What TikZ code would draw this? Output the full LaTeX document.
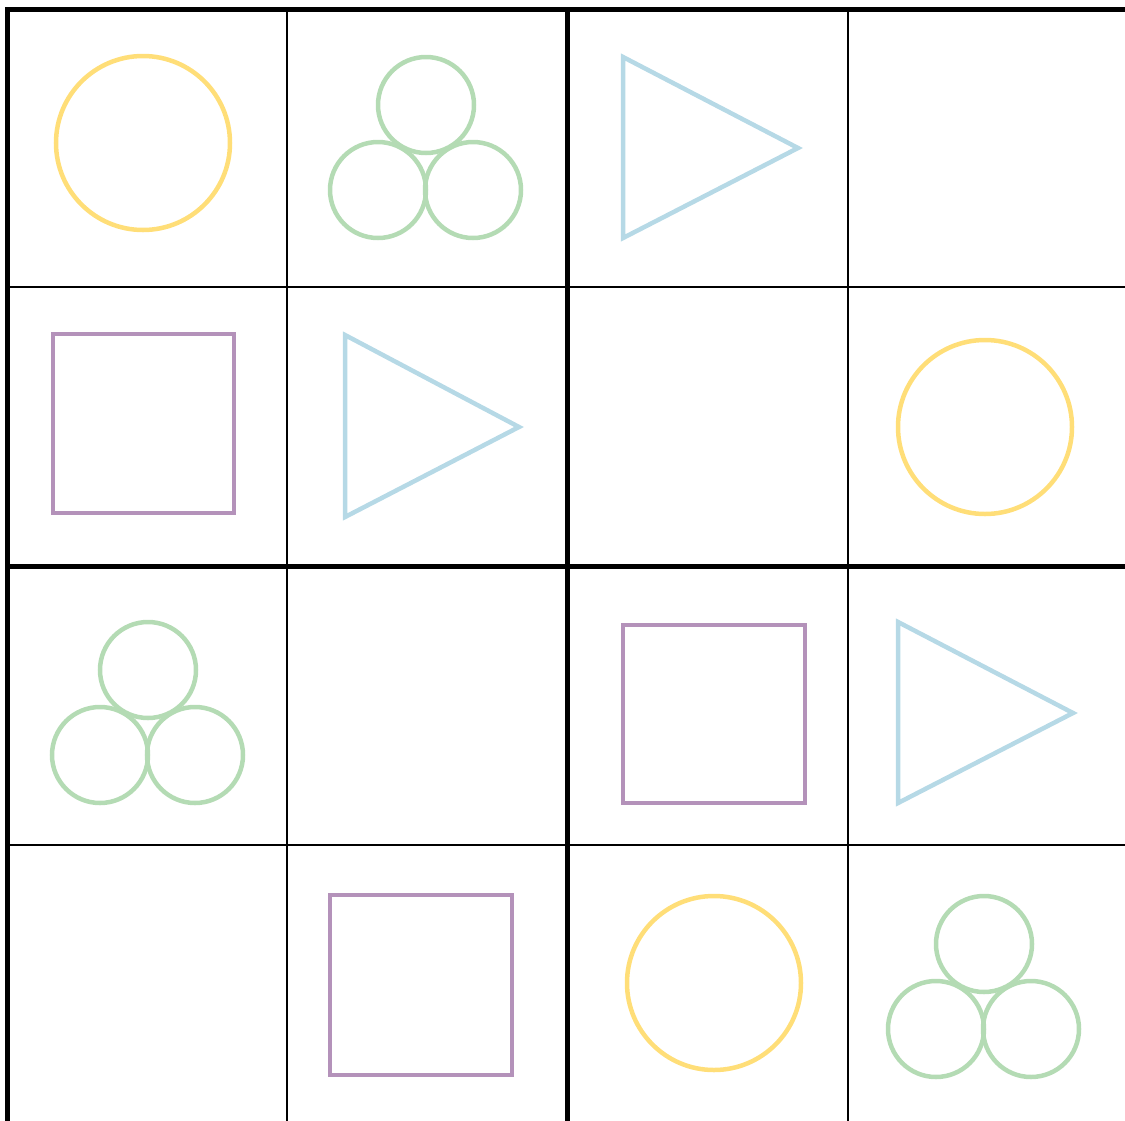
\documentclass[tikz,border=0pt]{standalone}
\definecolor{cyel}{RGB}{255,222,120}
\definecolor{cgrn}{RGB}{180,219,180}
\definecolor{cblu}{RGB}{182,217,230}
\definecolor{cpur}{RGB}{180,146,186}
\tikzset{
  thinline/.style={line width=2pt, black},
  thickline/.style={line width=5pt, black},
  yelshape/.style={draw=cyel, line width=4.5pt},
  grnshape/.style={draw=cgrn, line width=4.5pt},
  blushape/.style={draw=cblu, line width=4.5pt},
  purshape/.style={draw=cpur, line width=4.5pt},
}
\begin{document}
\begin{tikzpicture}[x=1pt,y=-1pt]
\useasboundingbox (0,0) rectangle (1125,1120);
% shapes
\draw[yelshape] (143,143) circle (87);
\draw[yelshape] (985,427) circle (87);
\draw[yelshape] (714,983) circle (87);
\foreach \cx/\cy in {426/105, 148/670, 984/944}{
  \draw[grnshape] (\cx,\cy) circle (48);
  \draw[grnshape] (\cx-48,\cy+85) circle (48);
  \draw[grnshape] (\cx+47,\cy+85) circle (48);
}
\draw[blushape] (623,57) -- (623,238) -- (798,148) -- cycle;
\draw[blushape] (345,335) -- (345,517) -- (519,427) -- cycle;
\draw[blushape] (898,622) -- (898,803) -- (1073,713) -- cycle;
\draw[purshape] (53,334) rectangle (234,513);
\draw[purshape] (623,625) rectangle (805,803);
\draw[purshape] (330,895) rectangle (512,1075);
% grid
\draw[thinline] (287,9) -- (287,1125);
\draw[thinline] (848,9) -- (848,1125);
\draw[thinline] (7,287) -- (1130,287);
\draw[thinline] (7,845) -- (1130,845);
\draw[thickline] (567,9) -- (567,1125);
\draw[thickline] (7,566) -- (1130,566);
\draw[thickline] (7,1125) -- (7,9) -- (1130,9);
\end{tikzpicture}
\end{document}
